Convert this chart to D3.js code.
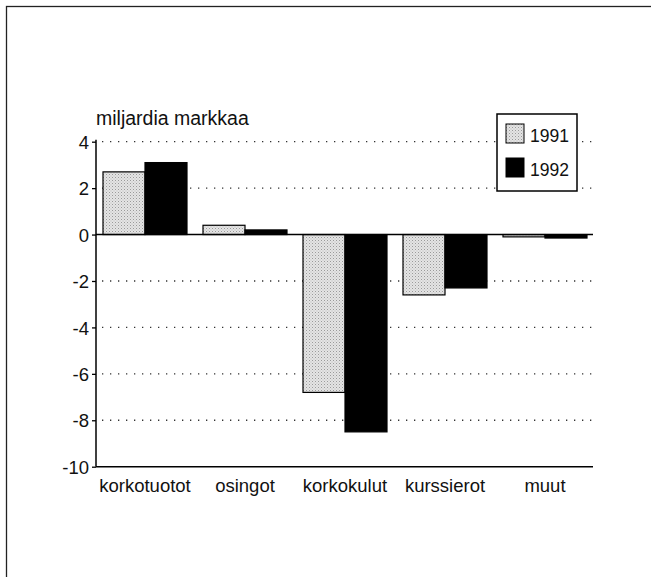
<!DOCTYPE html>
<html>
<head>
<meta charset="utf-8">
<script src="https://cdn.jsdelivr.net/npm/d3@7"></script>
<style>
  body { margin: 0; background: #fff; }
  text { font-family: "Liberation Sans", Arial, Helvetica, sans-serif; fill: #111; }
</style>
</head>
<body>
<div id="chart"></div>
<script>
// data
var categories = ["korkotuotot", "osingot", "korkokulut", "kurssierot", "muut"];
var seriesNames = ["1991", "1992"];
var values1991 = [2.7, 0.4, -6.8, -2.6, -0.1];
var values1992 = [3.1, 0.2, -8.5, -2.3, -0.15];
var yTicks = [4, 2, 0, -2, -4, -6, -8, -10];
var unitLabel = "miljardia markkaa";

var width = 651, height = 577;
var margin = {top: 141.7, right: 57, bottom: 110.3, left: 96};

var svg = d3.select("#chart").append("svg")
    .attr("width", width)
    .attr("height", height);

// stipple pattern for the light bars
var defs = svg.append("defs");
var pat = defs.append("pattern")
    .attr("id", "stipple")
    .attr("width", 3)
    .attr("height", 3)
    .attr("patternUnits", "userSpaceOnUse");
pat.append("rect").attr("width", 3).attr("height", 3).attr("fill", "#e4e4e4");
pat.append("rect").attr("x", 0).attr("y", 0).attr("width", 1).attr("height", 1).attr("fill", "#9a9a9a");
pat.append("rect").attr("x", 1.5).attr("y", 1.5).attr("width", 1).attr("height", 1).attr("fill", "#b8b8b8");

var fills = {"1991": "url(#stipple)", "1992": "#000"};

// outer frame
svg.append("rect")
    .attr("x", 6.5)
    .attr("y", 6.5)
    .attr("width", 660)
    .attr("height", 620)
    .attr("fill", "none")
    .attr("stroke", "#222")
    .attr("stroke-width", 1.3);

var x0 = d3.scaleBand()
    .domain(categories)
    .range([margin.left, width - margin.right])
    .paddingInner(0.16)
    .paddingOuter(0.07);

var x1 = d3.scaleBand()
    .domain(seriesNames)
    .range([0, x0.bandwidth()]);

var y = d3.scaleLinear()
    .domain([-10, 4])
    .range([height - margin.bottom, margin.top]);

var x0Left = margin.left, x0Right = width - margin.right + 1;

// dotted grid lines
svg.append("g").selectAll("line")
    .data(yTicks.filter(function(t){ return t != 0 && t != -10; }))
    .join("line")
    .attr("x1", x0Left + 6)
    .attr("x2", x0Right)
    .attr("y1", function(d){ return y(d); })
    .attr("y2", function(d){ return y(d); })
    .attr("stroke", "#333")
    .attr("stroke-width", 1.3)
    .attr("stroke-dasharray", "1.3,6.7");

// bars
var rows = categories.map(function(c, i){
    return {cat: c, vals: [
        {name: "1991", value: values1991[i]},
        {name: "1992", value: values1992[i]}
    ]};
});

var groups = svg.append("g").selectAll("g")
    .data(rows)
    .join("g")
    .attr("transform", function(d){ return "translate(" + x0(d.cat) + ",0)"; });

groups.selectAll("rect")
    .data(function(d){ return d.vals; })
    .join("rect")
    .attr("x", function(d){ return x1(d.name); })
    .attr("width", x1.bandwidth())
    .attr("y", function(d){ return y(Math.max(0, d.value)); })
    .attr("height", function(d){ return Math.abs(y(d.value) - y(0)); })
    .attr("fill", function(d){ return fills[d.name]; })
    .attr("stroke", "#000")
    .attr("stroke-width", 1.2);

// zero line
svg.append("line")
    .attr("x1", x0Left)
    .attr("x2", x0Right - 2)
    .attr("y1", y(0))
    .attr("y2", y(0))
    .attr("stroke", "#000")
    .attr("stroke-width", 1.5);

// y axis
var yAxis = d3.axisLeft(y)
    .tickValues(yTicks)
    .tickSize(4)
    .tickFormat(d3.format("d"));

var yg = svg.append("g")
    .attr("transform", "translate(" + x0Left + ",0)")
    .call(yAxis);
yg.select(".domain").remove();
yg.selectAll(".tick line").attr("stroke", "#000").attr("stroke-width", 1.3);
yg.selectAll(".tick text")
    .attr("x", -7)
    .attr("dy", "0.36em")
    .style("font-size", "18.5px")
    .style("font-family", "Liberation Sans, Arial, sans-serif")
    .attr("fill", "#111")
    .text(function(d){ return d < 0 ? "-" + Math.abs(d) : d; });

svg.append("line")
    .attr("x1", x0Left)
    .attr("x2", x0Left)
    .attr("y1", y(4) - 2)
    .attr("y2", y(-10))
    .attr("stroke", "#000")
    .attr("stroke-width", 1.5);

// bottom axis line and category labels
svg.append("line")
    .attr("x1", x0Left)
    .attr("x2", x0Right - 2)
    .attr("y1", y(-10))
    .attr("y2", y(-10))
    .attr("stroke", "#000")
    .attr("stroke-width", 1.5);

svg.append("g").selectAll("text")
    .data(categories)
    .join("text")
    .attr("x", function(d){ return x0(d) + x0.bandwidth() / 2; })
    .attr("y", y(-10) + 25)
    .attr("text-anchor", "middle")
    .style("font-size", "18.5px")
    .text(function(d){ return d; });

// unit label
svg.append("text")
    .attr("x", x0Left)
    .attr("y", 125)
    .style("font-size", "19.5px")
    .text(unitLabel);

// legend
var legend = svg.append("g").attr("transform", "translate(497,114)");
legend.append("rect")
    .attr("width", 80)
    .attr("height", 77)
    .attr("fill", "#fff")
    .attr("stroke", "#000")
    .attr("stroke-width", 1.5);

var items = legend.selectAll("g")
    .data(seriesNames)
    .join("g")
    .attr("transform", function(d, i){ return "translate(9," + (10 + i * 34) + ")"; });

items.append("rect")
    .attr("width", 18)
    .attr("height", 19)
    .attr("fill", function(d){ return fills[d]; })
    .attr("stroke", "#000")
    .attr("stroke-width", 1);

items.append("text")
    .attr("x", 24)
    .attr("y", 18)
    .style("font-size", "17.5px")
    .text(function(d){ return d; });
</script>
</body>
</html>
